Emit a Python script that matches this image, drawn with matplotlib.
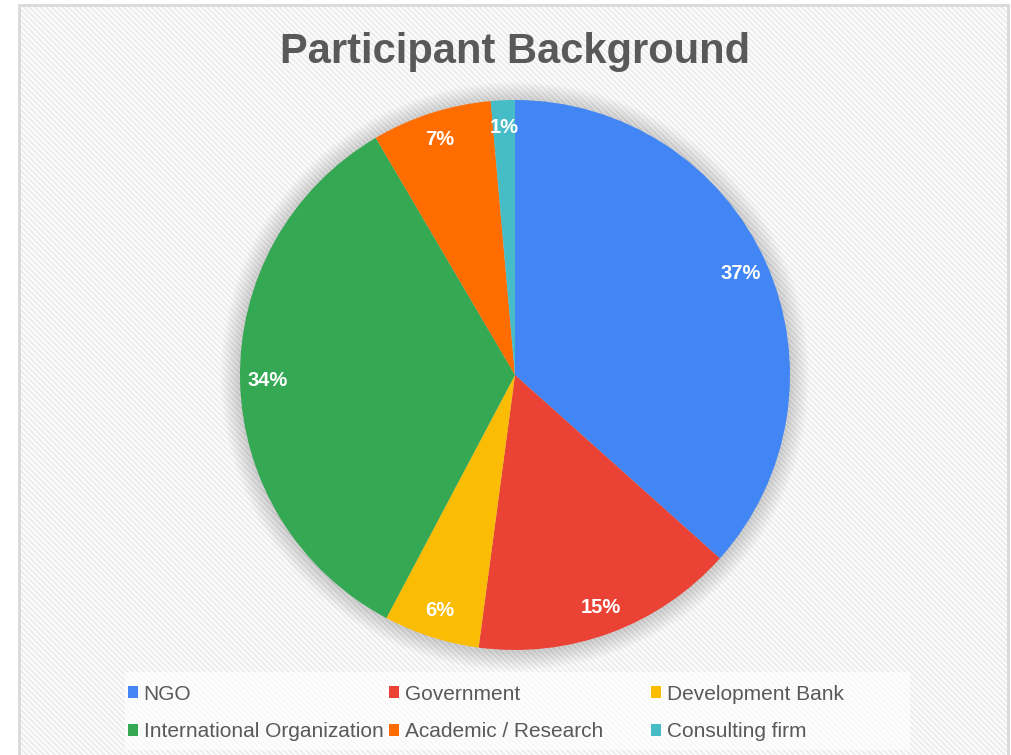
import matplotlib

matplotlib.use("Agg")
import matplotlib.pyplot as plt
from matplotlib.patches import Circle, Patch, Rectangle

categories = ["NGO", "Government", "Development Bank",
              "International Organization", "Academic / Research", "Consulting firm"]
counts = [26, 11, 4, 24, 5, 1]
colors = ["#4285F4", "#EA4335", "#FBBC04", "#34A853", "#FF6D01", "#46BDC6"]

plt.rcParams["font.family"] = ["Liberation Sans", "DejaVu Sans"]
plt.rcParams["hatch.color"] = "#ededed"
plt.rcParams["hatch.linewidth"] = 1.6

W, H = 1012, 755
fig = plt.figure(figsize=(W / 100, H / 100), dpi=100, facecolor="white")

# chart area: white with faint diagonal stripes, thin gray frame
fig.patches.append(Rectangle((19 / W, 0), 989 / W, 750 / H, transform=fig.transFigure,
                             facecolor="white", edgecolor="#ededed", linewidth=0,
                             hatch="\\\\\\\\\\\\", zorder=-10))
fig.patches.append(Rectangle((19 / W, -0.01), 989 / W, 750 / H + 0.01, transform=fig.transFigure,
                             facecolor="none", edgecolor="#d9d9d9", linewidth=2, zorder=-9))
# legend backdrop
fig.patches.append(Rectangle((125 / W, 5 / H), 785 / W, 78 / H, transform=fig.transFigure,
                             facecolor="white", alpha=0.65, edgecolor="none", zorder=-8))

cx, cy, r = 515, 375, 275
ax = fig.add_axes([(cx - r) / W, (H - cy - r) / H, 2 * r / W, 2 * r / H])
ax.set_facecolor("none")

# soft shadow around the pie
for k in range(1, 15):
    ax.add_patch(Circle((0, -0.004), 1 + 0.005 * k, facecolor="black", alpha=0.011,
                        edgecolor="none", zorder=0, clip_on=False))

wedges, _, autotexts = ax.pie(
    counts, colors=colors, startangle=90, counterclock=False, radius=1,
    autopct="%.0f%%", pctdistance=0.9,
    wedgeprops=dict(linewidth=0, zorder=2),
    textprops=dict(color="white", fontsize=14.5, fontweight="bold"),
)
ax.set_xlim(-1, 1)
ax.set_ylim(-1, 1)
ax.set_aspect("equal")
ax.axis("off")

fig.text(515 / W, 1 - 52 / H, "Participant Background", ha="center", va="center",
         fontsize=30, fontweight="bold", color="#595959")

col_x = [128, 389, 651]
for c, x0 in enumerate(col_x):
    idx = [c, c + 3]
    handles = [Patch(facecolor=colors[i], edgecolor="none") for i in idx]
    fig.legend(handles, [categories[i] for i in idx], loc="center left",
               bbox_to_anchor=(x0 / W, 1 - 713 / H), frameon=False, fontsize=15,
               labelcolor="#595959", handlelength=0.5, handleheight=0.5,
               handletextpad=0.25, labelspacing=0.9, borderpad=0, borderaxespad=0)

fig.savefig("out.png", dpi=100, facecolor="white")
